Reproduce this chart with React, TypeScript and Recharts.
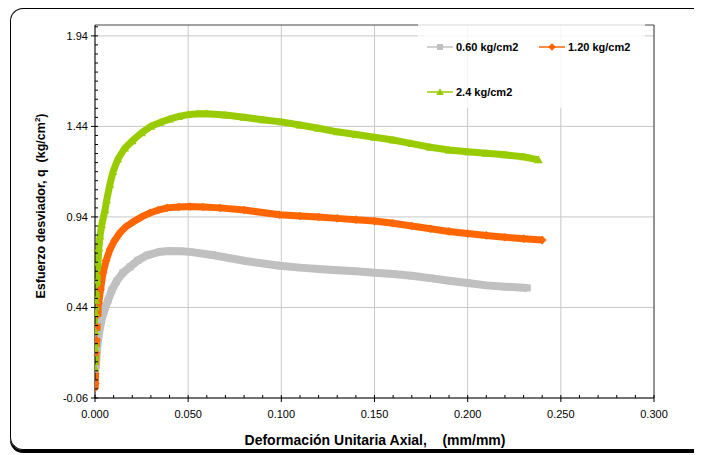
import React from "react";
import {
  LineChart,
  Line,
  XAxis,
  YAxis,
  CartesianGrid,
  ReferenceLine,
  Legend,
} from "recharts";

// ---------- data ----------
const strain060 = [0.0003, 0.001, 0.002, 0.0035, 0.0055, 0.007, 0.009, 0.0116, 0.015, 0.0188, 0.023, 0.0279, 0.035, 0.04, 0.046, 0.051, 0.063, 0.0816, 0.099, 0.11, 0.12, 0.13, 0.14, 0.15, 0.16, 0.17, 0.18, 0.19, 0.2, 0.21, 0.22, 0.232];
const q060 = [0.1, 0.2, 0.29, 0.37, 0.44, 0.48, 0.535, 0.585, 0.632, 0.664, 0.7, 0.728, 0.748, 0.752, 0.751, 0.747, 0.73, 0.695, 0.67, 0.66, 0.653, 0.646, 0.64, 0.632, 0.625, 0.615, 0.602, 0.588, 0.575, 0.562, 0.555, 0.548];

const strain120 = [0.0, 0.0002, 0.0005, 0.0008, 0.001, 0.0015, 0.002, 0.003, 0.0043, 0.006, 0.008, 0.0105, 0.0134, 0.0165, 0.0204, 0.025, 0.0295, 0.034, 0.0386, 0.045, 0.051, 0.058, 0.067, 0.08, 0.099, 0.11, 0.12, 0.13, 0.14, 0.15, 0.16, 0.17, 0.18, 0.19, 0.2, 0.21, 0.22, 0.23, 0.24];
const q120 = [-0.005, 0.02, 0.19, 0.26, 0.33, 0.4, 0.465, 0.54, 0.63, 0.7, 0.76, 0.81, 0.852, 0.885, 0.912, 0.94, 0.962, 0.978, 0.99, 0.995, 0.997, 0.995, 0.99, 0.978, 0.952, 0.945, 0.94, 0.932, 0.925, 0.917, 0.905, 0.89, 0.875, 0.86, 0.848, 0.838, 0.828, 0.82, 0.812];

const strain240 = [0.0, 0.0001, 0.0002, 0.0003, 0.0005, 0.0011, 0.0016, 0.0021, 0.0027, 0.0036, 0.0054, 0.0063, 0.008, 0.0097, 0.0123, 0.016, 0.02, 0.025, 0.03, 0.035, 0.04, 0.045, 0.05, 0.055, 0.06, 0.07, 0.08, 0.09, 0.1, 0.11, 0.12, 0.13, 0.14, 0.15, 0.16, 0.17, 0.18, 0.19, 0.2, 0.21, 0.22, 0.23, 0.238];
const q240 = [0.105, 0.216, 0.305, 0.41, 0.48, 0.59, 0.69, 0.77, 0.835, 0.896, 0.979, 1.034, 1.12, 1.19, 1.26, 1.32, 1.36, 1.405, 1.44, 1.462, 1.48, 1.495, 1.505, 1.51, 1.51, 1.503, 1.49, 1.477, 1.465, 1.448, 1.43, 1.41, 1.395, 1.38, 1.365, 1.345, 1.325, 1.31, 1.3, 1.292, 1.283, 1.272, 1.255];

const seriesNames = ["0.60 kg/cm2", "1.20 kg/cm2", "2.4 kg/cm2"];
const seriesColors = ["#c0c0c0", "#ff6600", "#99cc00"];
const seriesShapes = ["square", "diamond", "triangle"];

const xMajorTicks = [0, 0.05, 0.1, 0.15, 0.2, 0.25, 0.3];
const yMajorTicks = [-0.06, 0.44, 0.94, 1.44, 1.94];
const xMinorStep = 0.01;
const yMinorStep = 0.05;

const xTitle = "Deformación Unitaria Axial,    (mm/mm)";
const yTitleMain = "Esfuerzo desviador, q  (kg/cm";
const yTitleSup = "2";
const yTitleEnd = ")";

// ---------- derived ----------
const build = (xs: number[], ys: number[]) => xs.map((x, i) => ({ x, y: ys[i] }));
const seriesData = [build(strain060, q060), build(strain120, q120), build(strain240, q240)];

const xTicks: number[] = [];
for (let i = 0; i <= Math.round(0.3 / xMinorStep); i++) xTicks.push(Math.round(i * xMinorStep * 1000) / 1000);
const yTicks: number[] = [];
for (let i = 0; -0.06 + i * yMinorStep <= 1.9901; i++) yTicks.push(Math.round((-0.06 + i * yMinorStep) * 100) / 100);

const isMajor = (v: number, arr: number[]) => arr.some((m) => Math.abs(m - v) < 1e-6);

const FONT = "Arial, 'Liberation Sans', Helvetica, sans-serif";

function Marker({ shape, cx, cy, color, size = 7 }: any) {
  if (cx == null || cy == null) return null;
  const h = size / 2;
  if (shape === "square") {
    return <rect x={cx - h} y={cy - h} width={size} height={size} fill={color} />;
  }
  if (shape === "diamond") {
    const d = h + 0.8;
    return <polygon points={`${cx},${cy - d} ${cx + d},${cy} ${cx},${cy + d} ${cx - d},${cy}`} fill={color} />;
  }
  const t = h + 0.8;
  return <polygon points={`${cx},${cy - t} ${cx + t},${cy + t * 0.8} ${cx - t},${cy + t * 0.8}`} fill={color} />;
}

const XTick = (props: any) => {
  const { x, y, payload } = props;
  const v = payload.value;
  const major = isMajor(v, xMajorTicks);
  return (
    <g>
      <line x1={x} x2={x} y1={y - 3} y2={major ? y + 4 : y} stroke="#000" strokeWidth={1} />
      {major && (
        <text x={x} y={y + 20} textAnchor="middle" fontSize={11} fontFamily={FONT} fill="#000">
          {v.toFixed(3)}
        </text>
      )}
    </g>
  );
};

const YTick = (props: any) => {
  const { x, y, payload } = props;
  const v = payload.value;
  const major = isMajor(v, yMajorTicks);
  return (
    <g>
      <line x1={major ? x - 4 : x} x2={x + 3} y1={y} y2={y} stroke="#000" strokeWidth={1} />
      {major && (
        <text x={x - 7} y={y + 4} textAnchor="end" fontSize={11} fontFamily={FONT} fill="#000">
          {v.toFixed(2)}
        </text>
      )}
    </g>
  );
};

const LegendIcon = ({ i }: { i: number }) => (
  <svg width={26} height={12} style={{ display: "block" }}>
    <line x1={0} x2={26} y1={6} y2={6} stroke={seriesColors[i]} strokeWidth={1.5} />
    <Marker shape={seriesShapes[i]} cx={13} cy={6} color={seriesColors[i]} size={6} />
  </svg>
);

const LegendItem = ({ i, left, top }: { i: number; left: number; top: number }) => (
  <div style={{ position: "absolute", left, top, display: "flex", alignItems: "center" }}>
    <LegendIcon i={i} />
    <span style={{ marginLeft: 3, fontFamily: FONT, fontWeight: "bold", fontSize: 11, color: "#000", whiteSpace: "nowrap" }}>
      {seriesNames[i]}
    </span>
  </div>
);

const renderLegend = () => (
  <div style={{ position: "relative", width: 227, height: 84, background: "rgba(255,255,255,0.8)" }}>
    <LegendItem i={0} left={9} top={17} />
    <LegendItem i={1} left={121} top={17} />
    <LegendItem i={2} left={9} top={62} />
  </div>
);

const YTitle = (props: any) => {
  const cx = 37;
  const cy = 198;
  return (
    <text
      x={cx}
      y={cy}
      transform={`rotate(-90, ${cx}, ${cy})`}
      textAnchor="middle"
      fontSize={12.5}
      fontWeight="bold"
      fontFamily={FONT}
      fill="#000"
      xmlSpace="preserve"
      style={{ whiteSpace: "pre" }}
    >
      <tspan>{yTitleMain}</tspan>
      <tspan fontSize={8} dy={-5}>{yTitleSup}</tspan>
      <tspan dy={5}>{yTitleEnd}</tspan>
    </text>
  );
};

const XTitle = (props: any) => (
  <text
    x={367}
    y={437}
    textAnchor="middle"
    fontSize={14}
    fontWeight="bold"
    fontFamily={FONT}
    fill="#000"
    xmlSpace="preserve"
    style={{ whiteSpace: "pre" }}
  >
    {xTitle}
  </text>
);

export default function App() {
  return (
    <div style={{ position: "relative", width: 694, height: 447, overflow: "hidden" }}>
      <div
        style={{
          position: "absolute",
          left: 2,
          top: 0,
          width: 692,
          height: 442,
          boxSizing: "border-box",
          borderTop: "1.5px solid #000",
          borderLeft: "1.5px solid #000",
          borderBottom: "1.5px solid #000",
          borderRight: "none",
          borderTopLeftRadius: 13,
          borderBottomLeftRadius: 13,
          boxShadow: "0px 3px 0 #000",
        }}
      />
      <div style={{ position: "absolute", left: 0, top: 0 }}>
        <LineChart width={694} height={447} margin={{ top: 17, right: 48, left: 27, bottom: 27 }}>
          <CartesianGrid
            stroke="#c8c8c8"
            horizontalValues={yMajorTicks}
            verticalValues={xMajorTicks}
          />
          <XAxis
            type="number"
            dataKey="x"
            domain={[0, 0.3]}
            ticks={xTicks}
            interval={0}
            tickSize={0}
            tickMargin={0}
            tickLine={false}
            tick={<XTick />}
            axisLine={{ stroke: "#000", strokeWidth: 1 }}
            height={30}
            allowDataOverflow
            label={<XTitle />}
          />
          <YAxis
            type="number"
            dataKey="y"
            domain={[-0.06, 2.0]}
            ticks={yTicks}
            interval={0}
            tickSize={0}
            tickMargin={0}
            tickLine={false}
            tick={<YTick />}
            axisLine={{ stroke: "#000", strokeWidth: 1 }}
            width={60}
            allowDataOverflow
            label={<YTitle />}
          />
          <ReferenceLine y={2.0} stroke="#444" strokeWidth={1} />
          <ReferenceLine x={0.3} stroke="#444" strokeWidth={1} />
          {seriesData.map((d, i) => (
            <Line
              key={seriesNames[i]}
              data={d}
              dataKey="y"
              name={seriesNames[i]}
              type="linear"
              stroke={seriesColors[i]}
              strokeWidth={i === 0 ? 8 : 7}
              isAnimationActive={false}
              activeDot={false}
              legendType="none"
              dot={(p: any) => (
                <Marker key={`m-${i}-${p.index}`} shape={seriesShapes[i]} cx={p.cx} cy={p.cy} color={seriesColors[i]} size={7} />
              )}
            />
          ))}
          <Legend
            layout="horizontal"
            verticalAlign="middle"
            align="center"
            content={renderLegend}
            wrapperStyle={{ position: "absolute", left: 410, top: 16, width: 227, height: 84 }}
          />
        </LineChart>
      </div>
    </div>
  );
}
